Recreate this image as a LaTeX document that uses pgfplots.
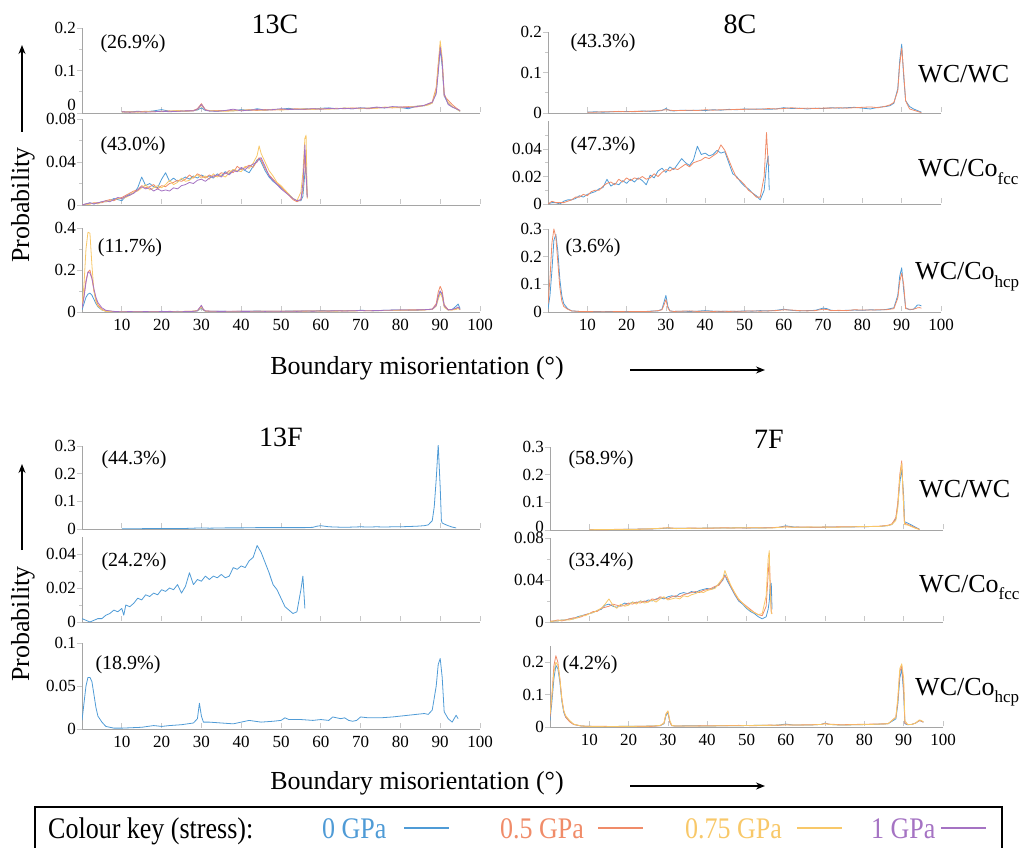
\documentclass[border=0pt]{standalone}
\usepackage{fontspec}
\setmainfont{Liberation Serif}
\usepackage{graphicx}
\usepackage{pgfplots}
\usepackage{pgfplotstable}
\pgfplotsset{compat=1.18}
\usetikzlibrary{arrows.meta}

\definecolor{c0}{RGB}{79,155,214}
\definecolor{c5}{RGB}{240,140,105}
\definecolor{c75}{RGB}{248,200,105}
\definecolor{c1}{RGB}{165,115,195}
\definecolor{axgray}{RGB}{165,165,165}
\definecolor{tkgray}{RGB}{200,200,200}

\newcommand{\fs}[1]{\fontsize{#1}{#1}\selectfont}
\newcommand{\sub}[1]{\raisebox{-0.28em}{\fs{17}#1}}

% ---------------- 13C ----------------
\pgfplotstableread{
x b o y p
10 0.002 0.003 0.002 0.003
12 0.003 0.002 0.003 0.002
14 0.004 0.003 0.002 0.003
16 0.003 0.004 0.003 0.002
18 0.005 0.003 0.004 0.003
20 0.008 0.004 0.003 0.004
22 0.004 0.005 0.004 0.003
24 0.005 0.004 0.006 0.004
26 0.004 0.005 0.004 0.005
28 0.006 0.006 0.005 0.005
29 0.007 0.010 0.008 0.009
30 0.012 0.022 0.018 0.020
31 0.006 0.008 0.007 0.007
32 0.005 0.005 0.006 0.005
34 0.004 0.006 0.005 0.004
36 0.006 0.005 0.004 0.006
38 0.005 0.007 0.005 0.009
40 0.008 0.006 0.006 0.005
42 0.006 0.007 0.008 0.007
44 0.010 0.006 0.007 0.008
46 0.007 0.008 0.006 0.007
48 0.008 0.007 0.009 0.008
50 0.009 0.008 0.007 0.010
52 0.011 0.009 0.008 0.008
54 0.008 0.010 0.009 0.009
56 0.010 0.008 0.010 0.009
58 0.009 0.010 0.008 0.010
60 0.011 0.009 0.010 0.009
62 0.012 0.010 0.009 0.011
64 0.010 0.011 0.010 0.010
66 0.011 0.010 0.012 0.011
68 0.010 0.012 0.011 0.010
70 0.012 0.011 0.010 0.012
72 0.011 0.010 0.012 0.011
74 0.013 0.012 0.011 0.014
76 0.012 0.013 0.014 0.012
78 0.014 0.012 0.013 0.015
80 0.013 0.014 0.012 0.014
82 0.010 0.015 0.014 0.013
84 0.016 0.014 0.016 0.015
86 0.017 0.018 0.017 0.018
87 0.020 0.021 0.019 0.022
88 0.024 0.026 0.023 0.025
89 0.050 0.060 0.055 0.045
89.5 0.100 0.115 0.110 0.095
90 0.150 0.160 0.170 0.155
90.5 0.110 0.120 0.130 0.120
91 0.040 0.040 0.045 0.045
92 0.022 0.030 0.025 0.020
93 0.015 0.020 0.015 0.014
94 0.010 0.012 0.010 0.010
95 0.004 0.005 0.004 0.006
}\tAww

\pgfplotstableread{
x b o y p
0 0.000 0.000 0.000 0.000
1 0.001 0.001 0.000 0.001
2 0.002 0.001 0.001 0.002
3 0.001 0.002 0.002 0.001
4 0.002 0.002 0.001 0.002
5 0.003 0.002 0.003 0.003
6 0.003 0.004 0.003 0.004
7 0.004 0.005 0.004 0.003
8 0.006 0.004 0.005 0.005
9 0.005 0.006 0.006 0.007
10 0.004 0.007 0.006 0.006
11 0.008 0.009 0.007 0.008
12 0.010 0.011 0.009 0.009
13 0.011 0.013 0.012 0.011
14 0.016 0.014 0.013 0.014
15 0.026 0.018 0.016 0.017
16 0.018 0.016 0.019 0.015
17 0.020 0.017 0.014 0.016
18 0.017 0.019 0.016 0.013
19 0.016 0.015 0.018 0.015
20 0.024 0.018 0.016 0.013
21 0.030 0.017 0.019 0.014
22 0.022 0.020 0.023 0.013
23 0.025 0.021 0.019 0.016
24 0.022 0.023 0.021 0.015
25 0.024 0.022 0.025 0.018
26 0.026 0.024 0.022 0.019
27 0.024 0.028 0.023 0.021
28 0.027 0.025 0.026 0.020
29 0.025 0.029 0.028 0.023
30 0.028 0.027 0.025 0.024
31 0.026 0.025 0.027 0.022
32 0.027 0.028 0.024 0.025
33 0.025 0.026 0.029 0.027
34 0.029 0.027 0.026 0.028
35 0.027 0.030 0.028 0.026
36 0.031 0.029 0.026 0.030
37 0.029 0.032 0.030 0.028
38 0.033 0.030 0.033 0.032
39 0.031 0.036 0.032 0.031
40 0.034 0.033 0.031 0.035
41 0.032 0.035 0.036 0.033
42 0.030 0.037 0.034 0.036
43 0.036 0.035 0.039 0.038
44 0.042 0.041 0.046 0.040
44.5 0.043 0.044 0.055 0.043
45 0.040 0.042 0.048 0.044
46 0.032 0.034 0.040 0.036
47 0.026 0.028 0.032 0.027
48 0.022 0.024 0.027 0.023
49 0.019 0.020 0.021 0.019
50 0.016 0.017 0.018 0.015
51 0.013 0.013 0.014 0.012
52 0.010 0.009 0.010 0.009
53 0.006 0.005 0.006 0.006
54 0.004 0.003 0.004 0.004
55 0.004 0.005 0.012 0.005
55.5 0.008 0.014 0.030 0.020
56 0.030 0.048 0.062 0.056
56.3 0.036 0.026 0.065 0.030
56.6 0.007 0.007 0.006 0.007
}\tAfcc

\pgfplotstableread{
x b o y p
0 0.010 0.020 0.030 0.020
0.5 0.040 0.080 0.130 0.070
1 0.070 0.150 0.300 0.140
1.5 0.085 0.190 0.380 0.190
2 0.090 0.200 0.375 0.185
2.5 0.080 0.160 0.220 0.160
3 0.060 0.100 0.100 0.110
3.5 0.040 0.060 0.050 0.070
4 0.025 0.035 0.028 0.045
5 0.010 0.012 0.010 0.020
6 0.004 0.005 0.003 0.008
8 0.002 0.002 0.001 0.003
10 0.001 0.002 0.002 0.001
12 0.002 0.001 0.001 0.002
14 0.001 0.002 0.001 0.001
16 0.002 0.001 0.002 0.002
18 0.001 0.002 0.001 0.001
20 0.003 0.002 0.002 0.002
22 0.002 0.003 0.001 0.002
24 0.003 0.002 0.002 0.001
26 0.002 0.003 0.003 0.002
28 0.003 0.004 0.004 0.003
29 0.005 0.007 0.006 0.006
30 0.018 0.028 0.022 0.032
30.5 0.008 0.012 0.010 0.012
31 0.004 0.005 0.004 0.005
32 0.003 0.004 0.003 0.004
34 0.004 0.003 0.002 0.003
36 0.003 0.002 0.003 0.003
38 0.002 0.003 0.002 0.004
40 0.004 0.003 0.003 0.003
42 0.003 0.004 0.002 0.003
44 0.005 0.003 0.003 0.004
46 0.003 0.004 0.004 0.003
48 0.004 0.003 0.003 0.004
50 0.003 0.004 0.003 0.003
52 0.005 0.003 0.004 0.004
54 0.004 0.005 0.003 0.003
56 0.005 0.004 0.004 0.005
58 0.004 0.005 0.005 0.004
60 0.007 0.005 0.004 0.005
62 0.006 0.004 0.005 0.005
64 0.005 0.006 0.004 0.006
66 0.007 0.005 0.006 0.005
68 0.006 0.006 0.005 0.006
70 0.008 0.007 0.006 0.007
72 0.007 0.006 0.007 0.006
74 0.006 0.007 0.006 0.007
76 0.008 0.007 0.007 0.008
78 0.009 0.008 0.007 0.009
80 0.010 0.009 0.008 0.010
82 0.009 0.010 0.009 0.009
84 0.008 0.010 0.009 0.010
86 0.011 0.010 0.010 0.011
88 0.013 0.014 0.012 0.013
89 0.030 0.040 0.028 0.032
89.5 0.070 0.095 0.060 0.075
90 0.100 0.122 0.088 0.100
90.5 0.080 0.100 0.070 0.085
91 0.030 0.035 0.022 0.030
92 0.010 0.011 0.009 0.010
93 0.012 0.010 0.010 0.012
94 0.028 0.016 0.012 0.018
94.5 0.038 0.022 0.017 0.024
95 0.016 0.012 0.010 0.012
}\tAhcp

% ---------------- 8C ----------------
\pgfplotstableread{
x b o
10 0.002 0.002
12 0.003 0.002
14 0.002 0.003
16 0.003 0.003
18 0.003 0.004
20 0.004 0.003
22 0.003 0.004
24 0.005 0.004
26 0.004 0.005
28 0.005 0.006
29 0.006 0.007
30 0.011 0.008
31 0.006 0.007
32 0.005 0.006
34 0.007 0.006
36 0.006 0.007
38 0.007 0.006
40 0.006 0.008
42 0.008 0.007
44 0.007 0.008
46 0.009 0.008
48 0.008 0.009
50 0.010 0.009
52 0.009 0.010
54 0.010 0.009
56 0.009 0.011
58 0.010 0.010
60 0.013 0.011
62 0.011 0.013
64 0.012 0.011
66 0.010 0.012
68 0.012 0.011
70 0.011 0.012
72 0.013 0.012
74 0.012 0.013
76 0.013 0.012
78 0.014 0.013
80 0.012 0.014
82 0.010 0.015
84 0.014 0.013
86 0.016 0.017
87 0.018 0.020
88 0.024 0.026
89 0.060 0.055
89.5 0.130 0.120
90 0.170 0.160
90.5 0.090 0.100
91 0.030 0.030
92 0.016 0.010
93 0.010 0.007
94 0.006 0.004
95 0.002 0.001
}\tBww

\pgfplotstableread{
x b o
0 0.000 0.000
1 0.001 0.002
2 0.001 0.001
3 0.000 0.001
4 0.002 0.001
5 0.003 0.002
6 0.003 0.003
7 0.004 0.005
8 0.006 0.005
9 0.005 0.007
10 0.007 0.006
11 0.008 0.009
12 0.009 0.010
13 0.011 0.010
14 0.012 0.013
15 0.018 0.015
16 0.013 0.016
17 0.015 0.014
18 0.014 0.018
19 0.017 0.016
20 0.015 0.019
21 0.018 0.017
22 0.016 0.019
23 0.019 0.018
24 0.017 0.020
25 0.014 0.018
26 0.021 0.019
27 0.019 0.022
28 0.024 0.020
29 0.026 0.023
30 0.023 0.025
31 0.027 0.024
32 0.025 0.026
33 0.029 0.025
34 0.033 0.027
35 0.030 0.029
36 0.028 0.027
37 0.032 0.030
38 0.042 0.031
39 0.036 0.032
40 0.037 0.034
41 0.035 0.033
42 0.036 0.035
43 0.039 0.037
44 0.037 0.043
45 0.038 0.039
46 0.030 0.032
47 0.022 0.025
48 0.020 0.019
49 0.016 0.017
50 0.013 0.014
51 0.011 0.010
52 0.008 0.008
53 0.006 0.005
54 0.003 0.005
55 0.010 0.020
55.6 0.028 0.052
56 0.035 0.030
56.3 0.010 0.028
}\tBfcc

\pgfplotstableread{
x b o
0 0.010 0.030
0.5 0.060 0.120
1 0.150 0.250
1.5 0.260 0.300
2 0.280 0.270
2.5 0.220 0.180
3 0.120 0.090
3.5 0.060 0.040
4 0.030 0.020
5 0.012 0.010
6 0.004 0.004
8 0.002 0.002
10 0.001 0.002
12 0.002 0.001
14 0.001 0.001
16 0.002 0.001
18 0.001 0.002
20 0.002 0.001
22 0.002 0.002
24 0.001 0.002
26 0.003 0.002
28 0.004 0.005
29 0.010 0.008
29.5 0.035 0.025
30 0.060 0.045
30.5 0.020 0.015
31 0.004 0.004
32 0.002 0.002
34 0.003 0.003
36 0.002 0.004
38 0.003 0.002
40 0.005 0.003
42 0.003 0.002
44 0.002 0.003
46 0.003 0.002
48 0.002 0.003
50 0.004 0.003
52 0.003 0.004
54 0.005 0.003
56 0.004 0.004
58 0.006 0.005
60 0.010 0.008
62 0.006 0.007
64 0.004 0.005
66 0.005 0.004
68 0.006 0.005
70 0.014 0.010
71 0.012 0.009
72 0.006 0.005
74 0.005 0.006
76 0.006 0.005
78 0.007 0.008
80 0.006 0.007
82 0.008 0.007
84 0.007 0.008
86 0.009 0.008
88 0.015 0.012
89 0.060 0.050
89.5 0.130 0.110
90 0.160 0.140
90.5 0.080 0.100
91 0.015 0.012
92 0.008 0.010
93 0.010 0.010
94 0.025 0.015
94.5 0.025 0.016
95 0.022 0.014
}\tBhcp

% ---------------- 13F ----------------
\pgfplotstableread{
x b
10 0.001
14 0.001
18 0.002
22 0.002
26 0.002
28 0.003
30 0.004
32 0.003
36 0.004
40 0.004
44 0.005
48 0.005
52 0.005
56 0.005
58 0.006
59 0.010
60 0.012
61 0.010
62 0.008
64 0.007
66 0.006
68 0.007
70 0.008
72 0.007
74 0.008
76 0.007
78 0.008
80 0.008
82 0.009
84 0.010
86 0.012
87 0.015
88 0.030
88.5 0.080
89 0.180
89.5 0.305
90 0.150
90.3 0.030
90.5 0.022
91 0.018
92 0.012
93 0.007
94 0.004
}\tCww

\pgfplotstableread{
x b
0 0.002
1 0.001
2 0.000
3 0.001
4 0.002
5 0.002
6 0.004
7 0.005
8 0.007
9 0.006
10 0.008
10.5 0.004
11 0.010
12 0.009
13 0.011
14 0.014
15 0.013
16 0.016
17 0.015
18 0.017
19 0.016
20 0.019
21 0.018
22 0.020
23 0.019
24 0.022
25 0.017
26 0.021
27 0.029
28 0.022
29 0.025
30 0.024
31 0.027
32 0.025
33 0.027
34 0.026
35 0.028
36 0.026
37 0.027
38 0.032
39 0.031
40 0.033
41 0.032
42 0.036
43 0.038
44 0.045
45 0.041
46 0.035
47 0.029
48 0.022
49 0.019
50 0.014
51 0.009
52 0.007
53 0.005
54 0.006
55 0.019
55.5 0.027
56 0.008
}\tCfcc

\pgfplotstableread{
x b
0 0.010
0.5 0.030
1 0.050
1.5 0.060
2 0.060
2.5 0.055
3 0.040
3.5 0.025
4 0.015
5 0.008
6 0.003
8 0.001
10 0.001
15 0.002
18 0.004
20 0.003
22 0.004
25 0.005
28 0.007
29 0.012
29.5 0.030
30 0.015
30.5 0.008
32 0.008
35 0.007
38 0.006
40 0.008
42 0.010
45 0.008
48 0.009
50 0.010
51 0.013
52 0.011
55 0.011
58 0.010
60 0.011
62 0.010
63 0.014
65 0.012
66 0.013
67 0.010
68 0.009
69 0.010
70 0.014
72 0.013
75 0.013
78 0.014
80 0.015
82 0.016
84 0.017
86 0.018
87 0.017
88 0.022
89 0.050
89.5 0.075
90 0.082
90.5 0.060
91 0.020
92 0.012
93 0.008
94 0.016
94.5 0.012
}\tChcp

% ---------------- 7F ----------------
\pgfplotstableread{
x b o y
10 0.001 0.001 0.001
14 0.002 0.001 0.002
18 0.002 0.003 0.002
22 0.003 0.003 0.002
26 0.004 0.004 0.005
28 0.005 0.006 0.006
30 0.007 0.008 0.008
32 0.006 0.006 0.005
36 0.006 0.007 0.006
40 0.007 0.006 0.007
44 0.007 0.008 0.007
48 0.008 0.007 0.008
52 0.007 0.008 0.008
56 0.008 0.008 0.007
58 0.009 0.010 0.009
60 0.015 0.012 0.011
62 0.011 0.010 0.010
64 0.010 0.011 0.010
68 0.010 0.010 0.011
72 0.011 0.011 0.010
76 0.011 0.012 0.011
80 0.012 0.012 0.013
84 0.013 0.014 0.013
86 0.016 0.017 0.016
87 0.020 0.022 0.020
88 0.040 0.045 0.035
88.5 0.090 0.100 0.080
89 0.170 0.200 0.190
89.5 0.220 0.250 0.240
90 0.120 0.080 0.080
90.2 0.030 0.025 0.020
91 0.025 0.020 0.018
92 0.018 0.014 0.012
93 0.010 0.008 0.006
94 0.003 0.002 0.002
}\tDww

\pgfplotstableread{
x b o y
0 0.000 0.001 0.000
1 0.001 0.001 0.001
2 0.001 0.002 0.001
3 0.002 0.001 0.002
4 0.002 0.002 0.002
5 0.003 0.003 0.002
6 0.003 0.004 0.003
7 0.005 0.004 0.004
8 0.006 0.005 0.006
9 0.007 0.007 0.006
10 0.008 0.008 0.008
11 0.009 0.010 0.009
12 0.011 0.010 0.011
13 0.012 0.013 0.013
14 0.016 0.014 0.017
15 0.017 0.015 0.022
16 0.015 0.017 0.016
17 0.014 0.016 0.013
18 0.016 0.015 0.017
19 0.018 0.016 0.015
20 0.017 0.018 0.016
21 0.019 0.017 0.019
22 0.018 0.019 0.017
23 0.020 0.018 0.020
24 0.019 0.020 0.018
25 0.021 0.019 0.019
26 0.020 0.022 0.021
27 0.022 0.021 0.019
28 0.023 0.024 0.022
29 0.022 0.023 0.024
30 0.024 0.022 0.021
31 0.025 0.024 0.022
32 0.024 0.025 0.023
33 0.027 0.024 0.022
34 0.028 0.026 0.025
35 0.027 0.027 0.024
36 0.029 0.028 0.026
37 0.028 0.029 0.027
38 0.030 0.028 0.029
39 0.031 0.030 0.028
40 0.032 0.031 0.030
41 0.031 0.032 0.031
42 0.033 0.034 0.032
43 0.036 0.035 0.037
44 0.040 0.041 0.042
44.5 0.045 0.044 0.049
45 0.040 0.042 0.044
46 0.033 0.034 0.035
47 0.026 0.027 0.028
48 0.020 0.021 0.022
49 0.017 0.018 0.018
50 0.013 0.015 0.014
51 0.010 0.012 0.011
52 0.008 0.009 0.009
53 0.005 0.007 0.007
54 0.003 0.006 0.008
55 0.005 0.015 0.025
55.5 0.012 0.045 0.060
55.8 0.020 0.061 0.068
56 0.035 0.040 0.030
56.3 0.037 0.010 0.008
56.5 0.012 0.008 0.008
}\tDfcc

\pgfplotstableread{
x b o y
0 0.020 0.030 0.040
0.5 0.080 0.100 0.100
1 0.150 0.190 0.170
1.5 0.190 0.220 0.200
2 0.180 0.200 0.190
2.5 0.140 0.150 0.150
3 0.080 0.090 0.085
3.5 0.045 0.050 0.050
4 0.030 0.030 0.035
5 0.018 0.016 0.020
6 0.008 0.008 0.009
8 0.003 0.003 0.003
10 0.002 0.002 0.002
14 0.001 0.002 0.001
18 0.002 0.001 0.002
22 0.002 0.002 0.002
26 0.003 0.002 0.003
28 0.004 0.004 0.005
29 0.010 0.012 0.012
29.5 0.035 0.040 0.040
30 0.045 0.048 0.050
30.5 0.015 0.015 0.020
31 0.004 0.004 0.005
32 0.003 0.003 0.003
36 0.004 0.003 0.003
40 0.003 0.004 0.003
44 0.004 0.004 0.004
48 0.004 0.005 0.004
52 0.005 0.004 0.005
56 0.005 0.006 0.005
58 0.006 0.005 0.006
60 0.009 0.007 0.006
62 0.006 0.006 0.006
66 0.006 0.007 0.006
69 0.008 0.008 0.008
70 0.012 0.011 0.010
71 0.008 0.009 0.008
74 0.006 0.007 0.006
78 0.007 0.008 0.007
82 0.008 0.009 0.008
86 0.010 0.010 0.010
88 0.025 0.030 0.030
88.5 0.070 0.080 0.090
89 0.150 0.170 0.180
89.5 0.180 0.190 0.195
90 0.100 0.120 0.150
90.3 0.010 0.012 0.020
91 0.007 0.008 0.008
92 0.008 0.008 0.008
93 0.012 0.012 0.012
94 0.020 0.020 0.022
94.5 0.018 0.018 0.020
95 0.015 0.015 0.016
}\tDhcp

\pgfplotsset{
  sub/.style={
    scale only axis, xmin=0, xmax=100, ymin=0,
    axis lines=left, axis line style={-, draw=axgray, line width=0.9pt},
    tick align=outside, major tick length=5pt, minor tick length=3pt,
    tick style={draw=tkgray, line width=0.8pt},
    xtick={10,20,...,100},
    xtick style={yshift=6pt},
    scaled y ticks=false,
    /pgf/number format/assume math mode=true,
    yticklabel style={/pgf/number format/fixed, /pgf/number format/precision=2,
      font=\fs{17}, inner sep=1pt},
    every axis plot/.append style={no markers, line width=0.8pt, line join=round},
  },
  top/.style={xticklabels={}},
  bottom/.style={xticklabel style={font=\fs{17}, inner sep=2pt}},
}

\begin{document}
\begin{tikzpicture}[x=1pt, y=1pt]
\useasboundingbox (0,0) rectangle (1030,847);

% ===== 13C =====
\begin{axis}[sub, top, at={(82pt,734pt)}, anchor=south west, width=398pt, height=85pt,
  ymax=0.2, ytick={0,0.1,0.2}, minor ytick={0.05,0.15},
  yticklabels={\smash{\raisebox{2pt}{0}},0.1,0.2}]
\addplot[c0] table[x=x,y=b] {\tAww};
\addplot[c5] table[x=x,y=o] {\tAww};
\addplot[c75] table[x=x,y=y] {\tAww};
\addplot[c1] table[x=x,y=p] {\tAww};
\end{axis}
\begin{axis}[sub, top, at={(82pt,642pt)}, anchor=south west, width=398pt, height=86pt,
  ymax=0.08, ytick={0,0.04,0.08}, minor ytick={0.02,0.06}]
\addplot[c0] table[x=x,y=b] {\tAfcc};
\addplot[c5] table[x=x,y=o] {\tAfcc};
\addplot[c75] table[x=x,y=y] {\tAfcc};
\addplot[c1] table[x=x,y=p] {\tAfcc};
\end{axis}
\begin{axis}[sub, bottom, at={(82pt,535pt)}, anchor=south west, width=398pt, height=84pt,
  ymax=0.4, ytick={0,0.2,0.4}, minor ytick={0.1,0.3}]
\addplot[c0] table[x=x,y=b] {\tAhcp};
\addplot[c5] table[x=x,y=o] {\tAhcp};
\addplot[c75] table[x=x,y=y] {\tAhcp};
\addplot[c1] table[x=x,y=p] {\tAhcp};
\end{axis}

% ===== 8C =====
\begin{axis}[sub, top, at={(548pt,734pt)}, anchor=south west, width=393pt, height=81pt,
  ymax=0.2, ytick={0,0.1,0.2}, minor ytick={0.05,0.15}]
\addplot[c0] table[x=x,y=b] {\tBww};
\addplot[c5] table[x=x,y=o] {\tBww};
\end{axis}
\begin{axis}[sub, top, at={(548pt,643pt)}, anchor=south west, width=393pt, height=82.5pt,
  ymax=0.06, ytick={0,0.02,0.04}, minor ytick={0.01,0.03,0.05}]
\addplot[c0] table[x=x,y=b] {\tBfcc};
\addplot[c5] table[x=x,y=o] {\tBfcc};
\end{axis}
\begin{axis}[sub, bottom, at={(548pt,535pt)}, anchor=south west, width=393pt, height=83pt,
  ymax=0.3, ytick={0,0.1,0.2,0.3}]
\addplot[c0] table[x=x,y=b] {\tBhcp};
\addplot[c5] table[x=x,y=o] {\tBhcp};
\end{axis}

% ===== 13F =====
\begin{axis}[sub, top, at={(82pt,318pt)}, anchor=south west, width=398pt, height=83pt,
  ymax=0.3, ytick={0,0.1,0.2,0.3}]
\addplot[c0] table[x=x,y=b] {\tCww};
\end{axis}
\begin{axis}[sub, top, at={(82pt,225pt)}, anchor=south west, width=398pt, height=85pt,
  ymax=0.05, ytick={0,0.02,0.04}, minor ytick={0.01,0.03}]
\addplot[c0] table[x=x,y=b] {\tCfcc};
\end{axis}
\begin{axis}[sub, bottom, at={(82pt,118pt)}, anchor=south west, width=398pt, height=86pt,
  ymax=0.1, ytick={0,0.05,0.1}]
\addplot[c0] table[x=x,y=b] {\tChcp};
\end{axis}

% ===== 7F =====
\begin{axis}[sub, top, at={(550pt,317pt)}, anchor=south west, width=393pt, height=83pt,
  ymax=0.3, ytick={0,0.1,0.2,0.3},
  yticklabels={\smash{\raisebox{-2pt}{0}},0.1,0.2,0.3}]
\addplot[c0] table[x=x,y=b] {\tDww};
\addplot[c5] table[x=x,y=o] {\tDww};
\addplot[c75] table[x=x,y=y] {\tDww};
\end{axis}
\begin{axis}[sub, top, at={(550pt,225pt)}, anchor=south west, width=393pt, height=84pt,
  ymax=0.08, ytick={0,0.04,0.08}, minor ytick={0.02,0.06}]
\addplot[c0] table[x=x,y=b] {\tDfcc};
\addplot[c5] table[x=x,y=o] {\tDfcc};
\addplot[c75] table[x=x,y=y] {\tDfcc};
\end{axis}
\begin{axis}[sub, bottom, at={(550pt,120pt)}, anchor=south west, width=393pt, height=81pt,
  ymax=0.25, ytick={0,0.1,0.2}]
\addplot[c0] table[x=x,y=b] {\tDhcp};
\addplot[c5] table[x=x,y=o] {\tDhcp};
\addplot[c75] table[x=x,y=y] {\tDhcp};
\end{axis}

% ===== titles =====
\node[font=\fs{28}] at (275,823) {13C};
\node[font=\fs{28}] at (740,823) {8C};
\node[font=\fs{28}] at (281,410) {13F};
\node[font=\fs{28}] at (769,408) {7F};

% ===== fractions of boundaries =====
\begin{scope}[every node/.style={font=\fs{20}}]
\node at (133,803) {(26.9\%)};
\node at (133,701) {(43.0\%)};
\node at (130,599) {(11.7\%)};
\node at (603,804) {(43.3\%)};
\node at (603,701) {(47.3\%)};
\node at (593,599) {(3.6\%)};
\node at (134,387) {(44.3\%)};
\node at (134,285) {(24.2\%)};
\node at (128,182) {(18.9\%)};
\node at (601,387) {(58.9\%)};
\node at (601,285) {(33.4\%)};
\node at (590,182) {(4.2\%)};
\end{scope}

% ===== boundary types =====
\begin{scope}[every node/.style={font=\fs{26}, anchor=base west, inner sep=0pt}]
\node at (918,764) {WC/WC};
\node at (918,670) {WC/Co\sub{fcc}};
\node at (915,567) {WC/Co\sub{hcp}};
\node at (919,350) {WC/WC};
\node at (919,255) {WC/Co\sub{fcc}};
\node at (915,152) {WC/Co\sub{hcp}};
\end{scope}

% ===== axis labels and arrows =====
\node[rotate=90, font=\fs{26}] at (23,642) {Probability};
\node[rotate=90, font=\fs{26}] at (23,223) {Probability};
\draw[-{Stealth[length=9pt,width=7pt]}, line width=1.3pt] (22,715) -- (22,802);
\draw[-{Stealth[length=9pt,width=7pt]}, line width=1.3pt] (22,297) -- (22,383);
\node[font=\fs{26}] at (417,479) {Boundary misorientation (°)};
\node[font=\fs{26}] at (417,64) {Boundary misorientation (°)};
\draw[-{Stealth[length=9pt,width=7pt]}, line width=1.3pt] (630,477) -- (765,477);
\draw[-{Stealth[length=9pt,width=7pt]}, line width=1.3pt] (630,61) -- (765,61);

% ===== colour key =====
\draw[line width=1.5pt] (35,40) rectangle (1002,-30);
\begin{scope}[every node/.style={font=\fs{26}, anchor=base west, inner sep=0pt}]
\node at (48,9) {\scalebox{1}[1.15]{Colour key (stress):}};
\node[text=c0] at (322,9) {\scalebox{1}[1.15]{0 GPa}};
\node[text=c5] at (500,9) {\scalebox{1}[1.15]{0.5 GPa}};
\node[text=c75] at (685,9) {\scalebox{1}[1.15]{0.75 GPa}};
\node[text=c1] at (871,9) {\scalebox{1}[1.15]{1 GPa}};
\end{scope}
\draw[c0, line width=2.5pt] (404,19) -- (449,19);
\draw[c5, line width=2.5pt] (598,19) -- (643,19);
\draw[c75, line width=2.5pt] (797,19) -- (842,19);
\draw[c1, line width=2.5pt] (941,19) -- (986,19);
\end{tikzpicture}
\end{document}
